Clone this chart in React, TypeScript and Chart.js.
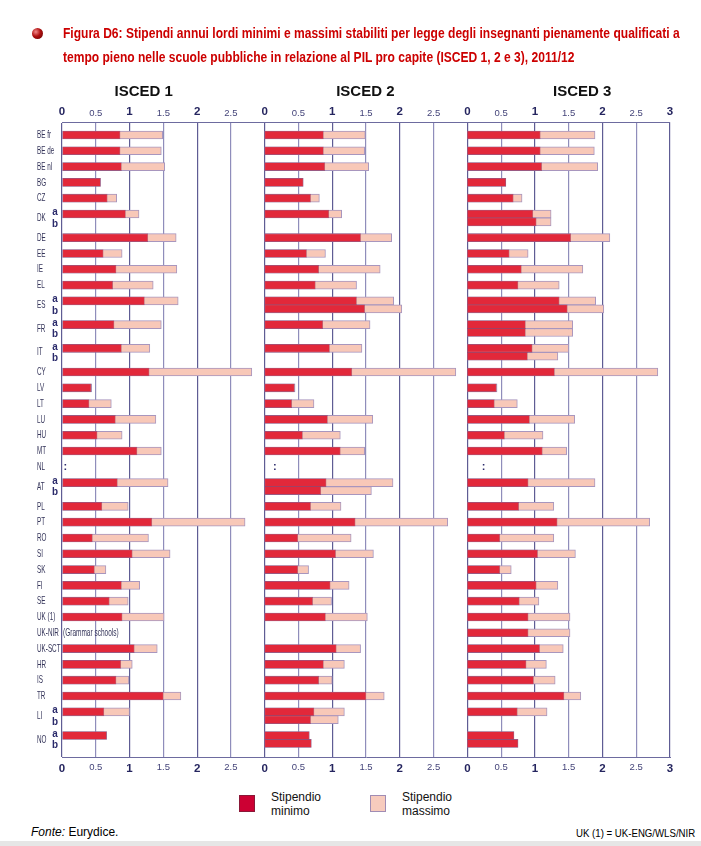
import React, { useEffect, useLayoutEffect, useRef } from 'react';
import { Chart, registerables } from 'chart.js';

Chart.register(...registerables);

// ---------- DATA ----------
const countries = ['BE fr', 'BE de', 'BE nl', 'BG', 'CZ', 'DK', 'DE', 'EE', 'IE', 'EL', 'ES', 'FR', 'IT', 'CY', 'LV', 'LT', 'LU', 'HU', 'MT', 'NL', 'AT', 'PL', 'PT', 'RO', 'SI', 'SK', 'FI', 'SE', 'UK (1)', 'UK-NIR', 'UK-SCT', 'HR', 'IS', 'TR', 'LI', 'NO'];
const splitCountries = ['DK', 'ES', 'FR', 'IT', 'AT', 'LI', 'NO'];
const subLabels = ['a', 'b'];
const panelTitles = ['ISCED 1', 'ISCED 2', 'ISCED 3'];
const titleLines = [
  'Figura D6: Stipendi annui lordi minimi e massimi stabiliti per legge degli insegnanti pienamente qualificati a',
  'tempo pieno nelle scuole pubbliche in relazione al PIL pro capite (ISCED 1, 2 e 3), 2011/12',
];
const legendMin = ['Stipendio', 'minimo'];
const legendMax = ['Stipendio', 'massimo'];
const sourceNote = 'Eurydice.';
const ukNote = 'UK (1) = UK-ENG/WLS/NIR';
const rowTextNotes = [{ country: 'UK-NIR', text: '(Grammar schools)' }];
const missingNotes = [
  { country: 'NL', panel: 0, at: 0.05 },
  { country: 'NL', panel: 1, at: 0.15 },
  { country: 'NL', panel: 2, at: 0.24 },
];

// bar lines order: each country, split countries as a then b
// BE fr, BE de, BE nl, BG, CZ, DK a, DK b, DE, EE, IE, EL, ES a, ES b, FR a, FR b, IT a, IT b,
// CY, LV, LT, LU, HU, MT, NL, AT a, AT b, PL, PT, RO, SI, SK, FI, SE, UK(1), UK-NIR, UK-SCT,
// HR, IS, TR, LI a, LI b, NO a, NO b
const isced1Min = [0.86, 0.86, 0.88, 0.57, 0.67, 0.94, null, 1.27, 0.61, 0.80, 0.75, 1.22, null, 0.77, null, 0.88, null,
  1.29, 0.43, 0.40, 0.79, 0.52, 1.11, null, 0.82, null, 0.59, 1.33, 0.45, 1.04, 0.48, 0.88, 0.70, 0.89, null, 1.07,
  0.87, 0.80, 1.50, 0.62, null, 0.66, null];
const isced1Max = [1.49, 1.47, 1.52, 0.57, 0.81, 1.14, null, 1.69, 0.89, 1.70, 1.35, 1.72, null, 1.47, null, 1.30, null,
  2.81, 0.44, 0.73, 1.39, 0.89, 1.47, null, 1.57, null, 0.98, 2.71, 1.28, 1.60, 0.65, 1.15, 0.98, 1.51, null, 1.41,
  1.04, 0.99, 1.76, 1.00, null, 0.66, null];
const isced2Min = [0.87, 0.87, 0.89, 0.57, 0.68, 0.95, null, 1.42, 0.62, 0.80, 0.75, 1.36, 1.48, 0.86, null, 0.96, null,
  1.29, 0.44, 0.40, 0.93, 0.56, 1.12, null, 0.91, 0.83, 0.68, 1.34, 0.49, 1.05, 0.49, 0.97, 0.71, 0.90, null, 1.06,
  0.87, 0.80, 1.50, 0.73, 0.68, 0.66, 0.69];
const isced2Max = [1.49, 1.48, 1.54, 0.57, 0.81, 1.14, null, 1.88, 0.90, 1.71, 1.36, 1.91, 2.03, 1.56, null, 1.44, null,
  2.83, 0.45, 0.73, 1.60, 1.12, 1.48, null, 1.90, 1.58, 1.13, 2.71, 1.28, 1.61, 0.65, 1.25, 0.99, 1.52, null, 1.42,
  1.18, 1.00, 1.77, 1.18, 1.09, 0.66, 0.69];
const isced3Min = [1.08, 1.08, 1.10, 0.57, 0.68, 0.97, 1.02, 1.53, 0.62, 0.80, 0.75, 1.36, 1.48, 0.86, 0.86, 0.96, 0.89,
  1.29, 0.43, 0.40, 0.92, 0.55, 1.11, null, 0.90, null, 0.76, 1.33, 0.48, 1.04, 0.48, 1.02, 0.77, 0.90, 0.90, 1.07,
  0.87, 0.98, 1.43, 0.74, null, 0.69, 0.75];
const isced3Max = [1.89, 1.88, 1.93, 0.57, 0.81, 1.24, 1.24, 2.11, 0.90, 1.71, 1.36, 1.90, 2.02, 1.56, 1.56, 1.50, 1.34,
  2.82, 0.44, 0.74, 1.59, 1.12, 1.47, null, 1.89, null, 1.28, 2.70, 1.28, 1.60, 0.65, 1.34, 1.06, 1.52, 1.52, 1.42,
  1.17, 1.30, 1.68, 1.18, null, 0.69, 0.75];

const panelMins = [isced1Min, isced2Min, isced3Min];
const panelMaxs = [isced1Max, isced2Max, isced3Max];

// ---------- LAYOUT / STYLE ----------
const PANEL_SPAN = 3;
const SUB_OFF = 0.25;
const RED = '#e2283a';
const PINK = '#f8c8b8';
const PINK_BORDER = '#a896be';
const NAVY = '#2b2b6b';
const LABEL = '#35355a';
const FONT = '"Liberation Sans", Arial, Helvetica, sans-serif';

// row centres (split rows take 1.5 slots)
const rowCenter: number[] = [];
{
  let c = 0;
  let prevH = 0;
  countries.forEach((k, i) => {
    const h = splitCountries.includes(k) ? 1.5 : 1;
    c = i === 0 ? 0 : c + (prevH + h) / 2;
    rowCenter.push(c);
    prevH = h;
  });
}
const linePos: number[] = [];
countries.forEach((k, i) => {
  if (splitCountries.includes(k)) {
    linePos.push(rowCenter[i] - SUB_OFF, rowCenter[i] + SUB_OFF);
  } else {
    linePos.push(rowCenter[i]);
  }
});

const isInt = (v: number) => Math.abs(v - Math.round(v)) < 1e-6;
const tickLabel = (value: number | string) => {
  const v = Number(value);
  if (Math.abs(v - 3 * PANEL_SPAN) < 1e-6) return '3';
  const r = v - PANEL_SPAN * Math.floor((v + 1e-6) / PANEL_SPAN);
  return isInt(r) ? String(Math.round(r)) : r.toFixed(1);
};
const tickFont = (ctx: any) => {
  const v = ctx && ctx.tick ? ctx.tick.value : 0;
  return isInt(v)
    ? { family: FONT, size: 11.5, weight: 'bold' as const }
    : { family: FONT, size: 9.5, weight: 'normal' as const };
};
const tickColor = (ctx: any) => {
  const v = ctx && ctx.tick ? ctx.tick.value : 0;
  return isInt(v) ? '#25255f' : '#45457a';
};

function makeData(vals: (number | null)[], p: number) {
  const out: { x: [number, number]; y: number }[] = [];
  vals.forEach((v, i) => {
    if (v == null) return;
    out.push({ x: [p * PANEL_SPAN, p * PANEL_SPAN + v], y: linePos[i] });
  });
  return out;
}

function drawText(ctx: CanvasRenderingContext2D, text: string, x: number, y: number, font: string, color: string, align: CanvasTextAlign, sx: number) {
  ctx.save();
  ctx.font = font;
  ctx.fillStyle = color;
  ctx.textAlign = align;
  ctx.textBaseline = 'middle';
  ctx.translate(x, y);
  ctx.scale(sx, 1);
  ctx.fillText(text, 0, 0);
  ctx.restore();
}

const titleCenters = [1.21, 1.49, 1.70];

const labelPlugin = {
  id: 'rowLabels',
  afterDraw(chart: any) {
    const { ctx, chartArea } = chart;
    const xs = chart.scales.x;
    const ys = chart.scales.y;
    // panel titles
    panelTitles.forEach((t, p) => {
      drawText(ctx, t, xs.getPixelForValue(p * PANEL_SPAN + titleCenters[p]), chartArea.top - 30,
        `bold 15px ${FONT}`, '#111111', 'center', 1);
    });
    // country labels + a/b
    countries.forEach((k, i) => {
      const yc = ys.getPixelForValue(rowCenter[i]);
      drawText(ctx, k, chartArea.left - 25, yc, `11.5px ${FONT}`, LABEL, 'left', 0.55);
      if (splitCountries.includes(k)) {
        subLabels.forEach((s, j) => {
          const yy = ys.getPixelForValue(rowCenter[i] + (j === 0 ? -1 : 1) * SUB_OFF * 1.45);
          drawText(ctx, s, chartArea.left - 7, yy, `bold 11px ${FONT}`, NAVY, 'center', 0.9);
        });
      }
    });
    rowTextNotes.forEach((n) => {
      const i = countries.indexOf(n.country);
      drawText(ctx, n.text, chartArea.left + 1, ys.getPixelForValue(rowCenter[i]), `10.5px ${FONT}`, LABEL, 'left', 0.62);
    });
    missingNotes.forEach((n) => {
      const i = countries.indexOf(n.country);
      drawText(ctx, ':', xs.getPixelForValue(n.panel * PANEL_SPAN + n.at), ys.getPixelForValue(rowCenter[i]),
        `bold 11px ${FONT}`, NAVY, 'center', 1);
    });
  },
};

export default function App() {
  const canvasRef = useRef<HTMLCanvasElement>(null);
  const t1 = useRef<HTMLSpanElement>(null);
  const t2 = useRef<HTMLSpanElement>(null);
  const uk = useRef<HTMLSpanElement>(null);

  useLayoutEffect(() => {
    if (t1.current && t2.current) {
      t1.current.style.transform = 'none';
      t2.current.style.transform = 'none';
      const w = t1.current.offsetWidth;
      const s = w > 0 ? 617 / w : 1;
      t1.current.style.transform = `scaleX(${s})`;
      t2.current.style.transform = `scaleX(${s})`;
    }
    if (uk.current) {
      uk.current.style.transform = 'none';
      const w = uk.current.offsetWidth;
      uk.current.style.transform = `scaleX(${w > 0 ? 119 / w : 1})`;
    }
  }, []);

  useEffect(() => {
    if (!canvasRef.current) return;
    const datasets: any[] = [];
    panelMins.forEach((vals, p) => {
      datasets.push({
        label: 'min' + p,
        data: makeData(vals, p),
        backgroundColor: RED,
        borderColor: 'rgba(140,40,80,0.55)',
        borderWidth: 0.8,
        borderSkipped: false,
        barThickness: 8,
        grouped: false,
      });
    });
    panelMaxs.forEach((vals, p) => {
      datasets.push({
        label: 'max' + p,
        data: makeData(vals, p),
        backgroundColor: PINK,
        borderColor: PINK_BORDER,
        borderWidth: 1,
        borderSkipped: false,
        barThickness: 8,
        grouped: false,
      });
    });
    const xTicks = {
      stepSize: 0.5,
      autoSkip: false,
      maxRotation: 0,
      callback: tickLabel,
      font: tickFont,
      color: tickColor,
    };
    const chart = new Chart(canvasRef.current, {
      type: 'bar',
      data: { datasets },
      options: {
        indexAxis: 'y',
        animation: false,
        responsive: false,
        maintainAspectRatio: false,
        layout: { padding: { left: 62, right: 31, top: 92, bottom: 8 } },
        plugins: { legend: { display: false }, tooltip: { enabled: false } },
        scales: {
          x: {
            type: 'linear',
            position: 'top',
            min: 0,
            max: 3 * PANEL_SPAN,
            offset: false,
            ticks: { ...xTicks, padding: 3 },
            grid: {
              offset: false,
              drawTicks: false,
              color: (ctx: any) => (ctx.tick && isInt(ctx.tick.value) ? '#5e5c94' : '#8f8dbb'),
              lineWidth: 1.2,
            },
            border: { display: true, color: '#6d6b9f', width: 1 },
            afterFit: (s: any) => { s.height = 30; },
          },
          x2: {
            type: 'linear',
            position: 'bottom',
            min: 0,
            max: 3 * PANEL_SPAN,
            offset: false,
            ticks: { ...xTicks, padding: 5 },
            grid: { display: false, drawTicks: false },
            border: { display: true, color: '#6d6b9f', width: 1 },
            afterFit: (s: any) => { s.height = 25; },
          },
          y: {
            type: 'linear',
            reverse: true,
            offset: false,
            min: -0.82,
            max: 39.36,
            display: false,
            grid: { offset: false },
          },
        },
      } as any,
      plugins: [labelPlugin],
    });
    return () => chart.destroy();
  }, []);

  return (
    <div style={{ position: 'absolute', left: 0, top: 0, width: 701, height: 846, background: '#ffffff', overflow: 'hidden', fontFamily: FONT }}>
      <canvas ref={canvasRef} width={701} height={790} style={{ position: 'absolute', left: 0, top: 0, width: 701, height: 790 }} />
      <div style={{ position: 'absolute', left: 32, top: 28, width: 11, height: 11, borderRadius: '50%', background: 'radial-gradient(circle at 35% 35%, #f28a8a 0%, #b01010 45%, #5a0000 100%)' }} />
      <div style={{ position: 'absolute', left: 63, top: 21, fontSize: 15, lineHeight: '24px', fontWeight: 'bold', color: '#cc0000', whiteSpace: 'nowrap' }}>
        <div><span ref={t1} style={{ display: 'inline-block', transformOrigin: 'left center' }}>{titleLines[0]}</span></div>
        <div><span ref={t2} style={{ display: 'inline-block', transformOrigin: 'left center' }}>{titleLines[1]}</span></div>
      </div>
      {/* legend */}
      <div style={{ position: 'absolute', left: 239, top: 795, width: 14, height: 15, background: '#cc0033', border: '1px solid #8a1838' }} />
      <div style={{ position: 'absolute', left: 271, top: 790, fontSize: 12, lineHeight: '14px', color: '#111' }}>
        <div>{legendMin[0]}</div><div>{legendMin[1]}</div>
      </div>
      <div style={{ position: 'absolute', left: 370, top: 795, width: 14, height: 15, background: '#f7cbbd', border: '1px solid #a08cb4' }} />
      <div style={{ position: 'absolute', left: 402, top: 790, fontSize: 12, lineHeight: '14px', color: '#111' }}>
        <div>{legendMax[0]}</div><div>{legendMax[1]}</div>
      </div>
      {/* footer */}
      <div style={{ position: 'absolute', left: 31, top: 825, fontSize: 12, lineHeight: '14px', color: '#000', whiteSpace: 'nowrap' }}>
        <i>Fonte:</i> {sourceNote}
      </div>
      <div style={{ position: 'absolute', right: 6, top: 826, fontSize: 11.5, lineHeight: '14px', color: '#000', whiteSpace: 'nowrap' }}>
        <span ref={uk} style={{ display: 'inline-block', transformOrigin: 'right center' }}>{ukNote}</span>
      </div>
      <div style={{ position: 'absolute', left: 0, top: 841, width: 701, height: 5, background: '#e6e6e6' }} />
    </div>
  );
}
